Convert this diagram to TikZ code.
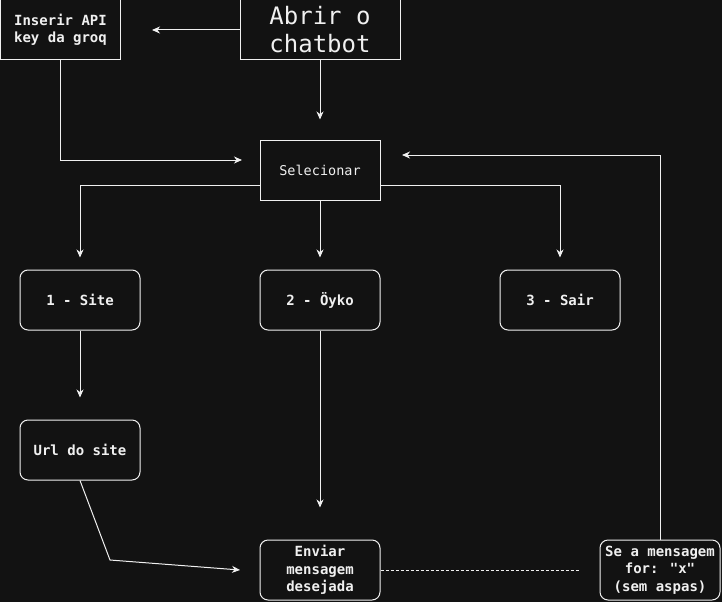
\documentclass[tikz,border=0pt]{standalone}
\usepackage{fontspec}
\setmainfont{DejaVu Sans Mono}[Ligatures=TeXOff]
\usetikzlibrary{arrows.meta}
\definecolor{bg}{HTML}{121212}
\definecolor{fg}{HTML}{F0F0F0}
\tikzset{
  x=1pt,y=-1pt,
  box/.style={draw=fg,line width=1pt,fill=bg,text=fg,minimum width=120pt,minimum height=60pt,inner sep=0pt,align=center,font=\fontsize{14}{17.5}\selectfont\bfseries},
  rbox/.style={box,rounded corners=8pt},
  conn/.style={draw=fg,line width=1pt,-{Stealth[length=8pt,width=7pt,inset=2.5pt]}},
  plain/.style={draw=fg,line width=1pt},
}
\begin{document}
\begin{tikzpicture}
\fill[bg] (0,0) rectangle (722,602);
\useasboundingbox (0,0) rectangle (722,602);
\node[box] (api) at (60.5,30) {Inserir API\\key da groq};
\node[box,minimum width=160pt,font=\fontsize{24}{28}\selectfont] (abrir) at (320,30) {Abrir o\\chatbot};
\node[box,font=\fontsize{13.5}{15}\selectfont] (sel) at (320,170) {Selecionar};
\node[rbox] (site) at (80,300) {1 - Site};
\node[rbox] (oyko) at (320,300) {2 - Öyko};
\node[rbox] (sair) at (560,300) {3 - Sair};
\node[rbox] (url) at (80,450) {Url do site};
\node[rbox] (env) at (320,570) {Enviar\\mensagem\\desejada};
\node[rbox] (se) at (660,570) {Se a mensagem\\for: "x"\\(sem aspas)};
\coordinate (apiend) at (152,30);
\coordinate (selin) at (242,160);
\coordinate (selin2) at (402,155);
\coordinate (envin) at (240,570);
\coordinate (dashend) at (580,570);
\draw[conn] (abrir.west) -- (apiend);
\draw[conn] (abrir.south) -- ([yshift=20pt]sel.north);
\draw[conn] (api.south) |- (selin);
\draw[conn] (sel.west |- 0,185) -| ([yshift=12pt]site.north);
\draw[conn] (sel.south) -- ([yshift=12pt]oyko.north);
\draw[conn] (sel.east |- 0,185) -| ([yshift=12pt]sair.north);
\draw[conn] (site.south) -- ([yshift=22pt]url.north);
\draw[conn] (oyko.south) -- ([yshift=32pt]env.north);
\draw[conn] (url.south) -- (110,560) -- (envin);
\draw[plain,dash pattern=on 3pt off 2pt] (env.east) -- (dashend);
\draw[conn] (se.north) |- (selin2);
\end{tikzpicture}
\end{document}
